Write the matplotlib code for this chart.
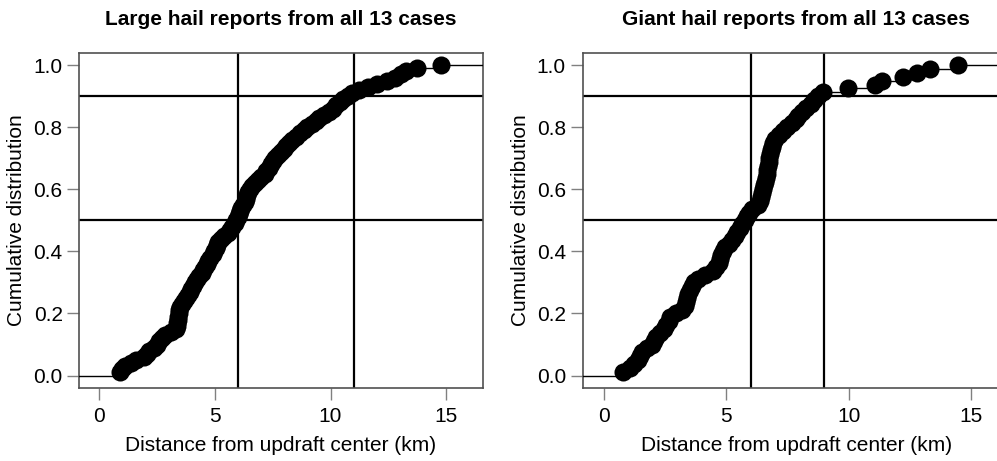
import numpy as np
import matplotlib.pyplot as plt

plt.rcParams['font.family'] = ['Liberation Sans', 'DejaVu Sans']

# Distances (km) of each hail report from updraft center, sorted
large_km = [0.90, 1.00, 1.10, 1.35, 1.60, 1.95, 2.05, 2.15, 2.35, 2.50,
            2.60, 2.70, 2.85, 3.10, 3.30, 3.35, 3.38, 3.40, 3.42, 3.44,
            3.46, 3.50, 3.58, 3.66, 3.75, 3.82, 3.90, 3.98, 4.06, 4.15,
            4.24, 4.33, 4.43, 4.50, 4.58, 4.66, 4.72, 4.80, 4.90, 4.98,
            5.03, 5.08, 5.12, 5.25, 5.40, 5.55, 5.65, 5.75, 5.85, 5.92,
            5.98, 6.02, 6.08, 6.12, 6.20, 6.28, 6.33, 6.38, 6.42, 6.50,
            6.60, 6.72, 6.85, 7.00, 7.15, 7.22, 7.32, 7.42, 7.50, 7.60,
            7.72, 7.85, 7.98, 8.08, 8.20, 8.32, 8.50, 8.68, 8.85, 9.00,
            9.18, 9.35, 9.50, 9.70, 9.95, 10.10, 10.25, 10.40, 10.55, 10.75,
            10.95, 11.25, 11.60, 12.00, 12.45, 12.80, 13.05, 13.25, 13.75, 14.80]

giant_km = [0.78, 1.05, 1.25, 1.40, 1.48, 1.55, 1.75, 1.95, 2.05, 2.15,
            2.30, 2.45, 2.55, 2.65, 2.72, 2.95, 3.20, 3.30, 3.35, 3.38,
            3.42, 3.50, 3.60, 3.70, 3.85, 4.15, 4.45, 4.60, 4.70, 4.75,
            4.80, 4.85, 4.95, 5.10, 5.25, 5.35, 5.45, 5.55, 5.65, 5.75,
            5.85, 5.95, 6.05, 6.30, 6.38, 6.42, 6.46, 6.50, 6.54, 6.58,
            6.62, 6.65, 6.68, 6.70, 6.73, 6.76, 6.80, 6.84, 6.88, 6.93,
            7.00, 7.15, 7.30, 7.50, 7.70, 7.85, 7.95, 8.10, 8.25, 8.45,
            8.60, 8.75, 8.95, 9.98, 11.07, 11.35, 12.23, 12.78, 13.32, 14.48]

titles = ["Large hail reports from all 13 cases",
          "Giant hail reports from all 13 cases"]
vlines_km = [[6, 11], [6, 9]]     # reference distances
hlines_cdf = [0.5, 0.9]            # reference quantiles

x_ticks = [0, 5, 10, 15]
y_ticks = [0.0, 0.2, 0.4, 0.6, 0.8, 1.0]


def ecdf_panel(ax, dist, title, vl):
    x = np.sort(np.asarray(dist))
    n = len(x)
    F = np.arange(1, n + 1) / n
    xlo, xhi = -0.86, 16.58
    ax.set_xlim(xlo, xhi)
    ax.set_ylim(-0.04, 1.04)

    # step function + points (like R plot.ecdf)
    xs = np.r_[xlo, x, xhi]
    ys = np.r_[0.0, F, 1.0]
    ax.step(xs, ys, where='post', color='black', lw=1.0, zorder=3)
    ax.plot(x, F, 'o', color='black', ms=13, mew=0, zorder=4)

    for v in vl:
        ax.axvline(v, color='black', lw=1.6, zorder=2)
    for h in hlines_cdf:
        ax.axhline(h, color='black', lw=1.6, zorder=2)

    ax.set_xticks(x_ticks)
    ax.set_yticks(y_ticks)
    ax.set_yticklabels([f"{t:.1f}" for t in y_ticks])
    ax.tick_params(length=8.6, width=1, color='#808080', labelsize=15,
                   pad=3.5)
    ax.tick_params(axis='x', pad=5)
    for s in ax.spines.values():
        s.set_color('#505050')
        s.set_linewidth(1.2)
    ax.set_title(title, fontsize=15, fontweight='bold', pad=20)
    ax.set_xlabel("Distance from updraft center (km)", fontsize=15,
                  labelpad=7)
    ax.set_ylabel("Cumulative distribution", fontsize=15, labelpad=5)


fig = plt.figure(figsize=(9.97, 4.61), dpi=100)
ax1 = fig.add_axes([0.0797, 0.1584, 0.4044, 0.7273])
ax2 = fig.add_axes([0.5845, 0.1584, 0.4283, 0.7273])

ecdf_panel(ax1, large_km, titles[0], vlines_km[0])
ecdf_panel(ax2, giant_km, titles[1], vlines_km[1])

fig.savefig("out.png", dpi=100)
